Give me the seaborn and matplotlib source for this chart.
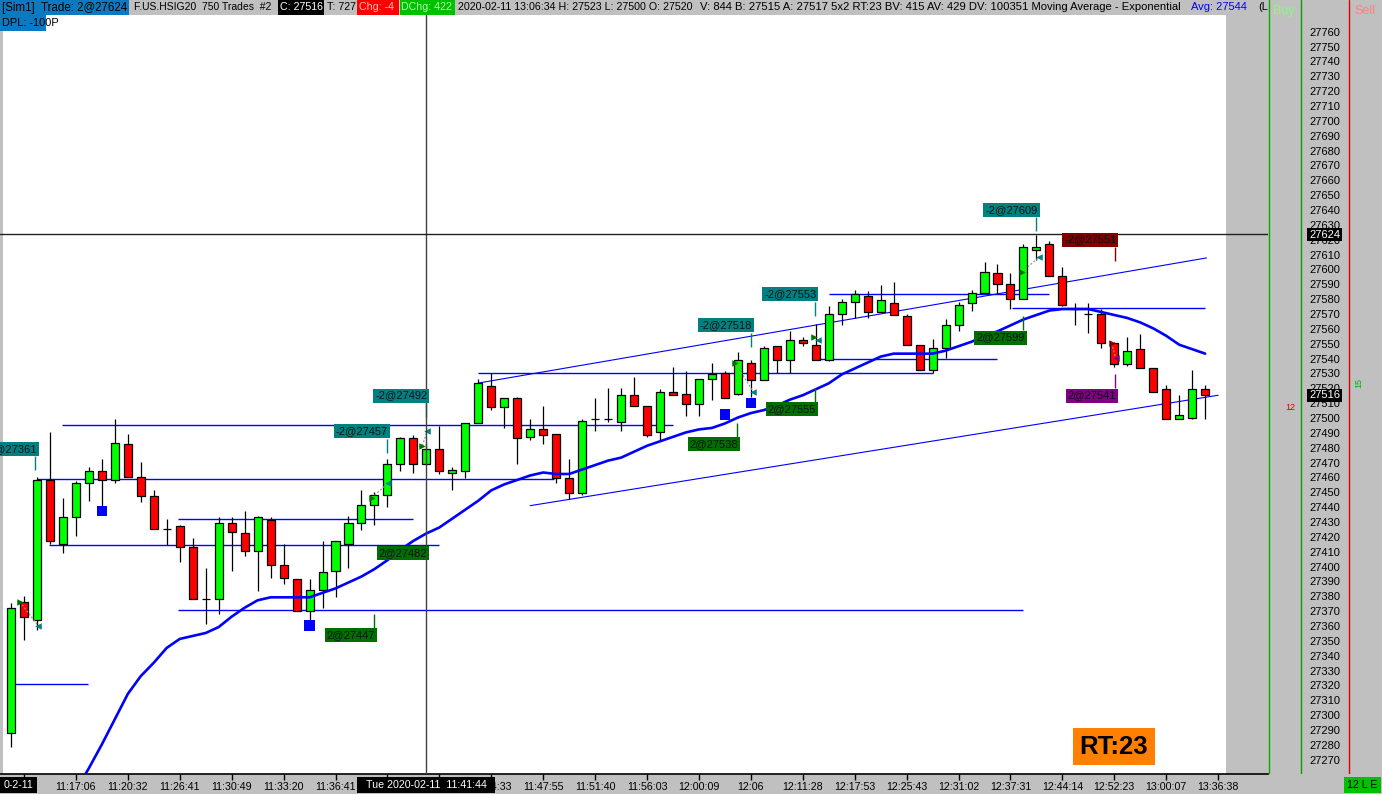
import numpy as np
import pandas as pd
import seaborn as sns
import matplotlib
matplotlib.use("Agg")
import matplotlib.pyplot as plt
from matplotlib.patches import Rectangle

# ---- bar data (one entry per bar, left to right) ----
opens = [27289, 27377, 27365, 27459, 27416, 27434, 27457, 27465, 27459, 27483,
         27461, 27448, 27426, 27428, 27414, 27379, 27379, 27430, 27423, 27411,
         27432, 27402, 27392, 27371, 27385, 27398, 27416, 27430, 27442, 27449,
         27470, 27487, 27470, 27480, 27464, 27465, 27497, 27522, 27508, 27514,
         27488, 27493, 27490, 27460, 27450, 27500, 27500, 27498, 27516, 27509,
         27491, 27518, 27517, 27510, 27527, 27531, 27517, 27538, 27526, 27549,
         27540, 27553, 27550, 27540, 27571, 27579, 27583, 27572, 27578, 27569,
         27550, 27533, 27548, 27563, 27578, 27585, 27598, 27591, 27581, 27614,
         27618, 27596, 27574, 27571, 27571, 27551, 27537, 27547, 27534, 27520,
         27500, 27501, 27520]
highs = [27376, 27381, 27461, 27491, 27447, 27458, 27468, 27473, 27500, 27490,
         27471, 27452, 27433, 27429, 27420, 27400, 27434, 27434, 27438, 27435,
         27434, 27416, 27392, 27392, 27418, 27418, 27435, 27452, 27451, 27473,
         27488, 27489, 27484, 27495, 27468, 27497, 27527, 27531, 27514, 27515,
         27500, 27509, 27490, 27473, 27500, 27514, 27521, 27521, 27528, 27509,
         27520, 27535, 27532, 27527, 27538, 27532, 27545, 27540, 27549, 27549,
         27559, 27555, 27564, 27576, 27581, 27587, 27586, 27590, 27592, 27571,
         27550, 27554, 27567, 27579, 27587, 27606, 27604, 27598, 27618, 27624,
         27620, 27602, 27578, 27578, 27574, 27552, 27555, 27557, 27534, 27523,
         27516, 27533, 27523]
lows = [27279, 27351, 27358, 27416, 27410, 27421, 27445, 27441, 27457, 27461,
        27444, 27426, 27415, 27404, 27379, 27362, 27369, 27398, 27408, 27384,
        27393, 27389, 27371, 27365, 27373, 27380, 27400, 27425, 27429, 27441,
        27465, 27464, 27470, 27463, 27452, 27460, 27497, 27506, 27494, 27470,
        27486, 27483, 27457, 27446, 27449, 27492, 27498, 27492, 27509, 27488,
        27486, 27516, 27502, 27502, 27513, 27514, 27516, 27515, 27526, 27531,
        27531, 27549, 27540, 27539, 27563, 27568, 27568, 27572, 27570, 27550,
        27533, 27531, 27541, 27559, 27573, 27585, 27585, 27574, 27581, 27607,
        27596, 27576, 27563, 27558, 27548, 27535, 27536, 27534, 27518, 27500,
        27500, 27500, 27500]
closes = [27373, 27367, 27459, 27418, 27434, 27457, 27465, 27459, 27484, 27461,
          27448, 27426, 27426, 27414, 27379, 27379, 27430, 27424, 27411, 27434,
          27402, 27393, 27371, 27385, 27397, 27418, 27430, 27442, 27449, 27470,
          27487, 27470, 27480, 27465, 27466, 27497, 27524, 27508, 27514, 27487,
          27493, 27489, 27460, 27450, 27499, 27500, 27500, 27516, 27509, 27489,
          27518, 27516, 27510, 27527, 27530, 27514, 27540, 27526, 27548, 27540,
          27553, 27551, 27540, 27571, 27579, 27584, 27572, 27580, 27570, 27550,
          27533, 27548, 27563, 27577, 27585, 27599, 27591, 27581, 27616, 27616,
          27596, 27577, 27574, 27571, 27551, 27537, 27546, 27534, 27518, 27500,
          27503, 27520, 27516]
# exponential moving average (nan = off screen)
ema = [np.nan] * 5 + [
    27250, 27265, 27281, 27298, 27315, 27327, 27336, 27346, 27352, 27354,
    27356, 27360, 27367, 27373, 27378, 27380, 27380, 27380, 27380, 27383,
    27386, 27390, 27394, 27399, 27405, 27412, 27418, 27423, 27427, 27433,
    27439, 27445, 27452, 27456, 27459, 27462, 27464, 27463, 27463, 27466,
    27469, 27472, 27474, 27478, 27482, 27485, 27488, 27491, 27493, 27494,
    27497, 27501, 27504, 27506, 27509, 27513, 27516, 27520, 27524, 27530,
    27534, 27538, 27542, 27544, 27544, 27544, 27544, 27546, 27549, 27552,
    27556, 27559, 27563, 27567, 27570, 27573, 27574, 27574, 27574, 27572,
    27570, 27568, 27565, 27561, 27556, 27550, 27547, 27544]

# time axis labels every 4 bars (those under the cursor box are hidden)
tick_bars = list(range(1, 94, 4))
tick_labels = ["", "11:17:06", "11:20:32", "11:26:41", "11:30:49", "11:33:20",
               "11:36:41", "", "", "11:44:33", "11:47:55",
               "11:51:40", "11:56:03", "12:00:09", "12:06", "12:11:28",
               "12:17:53", "12:25:43", "12:31:02", "12:37:31", "12:44:14",
               "12:52:23", "13:00:07", "13:36:38"]

# horizontal levels: (start bar, end bar, price)
levels = [(3.9, 51.0, 27496), (2.0, 41.8, 27459.4), (2.9, 33.0, 27415),
          (12.9, 31.0, 27432.7), (12.9, 78.0, 27371.3), (-0.1, 5.9, 27321.5),
          (36.0, 71.0, 27531), (61.7, 76.0, 27540.2), (63.0, 80.0, 27584),
          (77.1, 92.0, 27574.5)]
# channel lines: (bar0, price0, bar1, price1)
trendlines = [(36.0, 27524.2, 92.1, 27608.4), (40.0, 27441.7, 93.0, 27516.0)]

# blue dots
dot_bars = [7, 23, 55, 57]
dot_prices = [27438, 27361, 27503, 27511]

# trades: entry bar, entry price, exit bar, exit price, exit colour
trades = [(0.69, 27377, 2.08, 27361, "#008080"),
          (27.8, 27447, 29.05, 27457, "#008080"),
          (31.7, 27482, 32.05, 27492, "#008080"),
          (55.8, 27538, 57.2, 27518, "#008080"),
          (61.9, 27555, 62.2, 27553, "#008080"),
          (77.9, 27599, 79.2, 27609, "#008080"),
          (84.8, 27551, 85.1, 27541, "#800080")]

# trade tags: text, bar of leader, price of tag centre, colour, leader direction
tags = [("-2@27361", 1.87, 27480.0, "#008080", -1),
        ("-2@27457", 28.94, 27491.6, "#008080", -1),
        ("-2@27492", 31.97, 27515.8, "#008080", -1),
        ("2@27482", 31.97, 27410.0, "#006f00", 0),
        ("2@27447", 27.94, 27354.6, "#006f00", 1),
        ("-2@27518", 57.0, 27563.0, "#008080", -1),
        ("2@27538", 55.93, 27483.0, "#006f00", 1),
        ("2@27555", 61.94, 27506.7, "#006f00", 1),
        ("-2@27553", 61.94, 27584.0, "#008080", -1),
        ("-2@27609", 79.0, 27640.8, "#008080", -1),
        ("-2@27551", 85.05, 27620.8, "#800000", -1),
        ("2@27599", 77.99, 27554.8, "#006f00", 1),
        ("2@27541", 85.03, 27515.8, "#800080", 1)]

cursor_bar = 32.0
cursor_price = 27624.5

price_ticks = list(range(27270, 27761, 10))

sns.set_theme(style="white")
plt.rcParams["font.family"] = ["Liberation Sans", "DejaVu Sans"]

W, H = 1382, 794
GRAY = "#c0c0c0"
fig = plt.figure(figsize=(W / 100, H / 100), dpi=100, facecolor=GRAY)


def fx(px):
    return px / W


def fy(py):
    return 1 - py / H


def fbox(x0, y0, x1, y1, color, z=2):
    fig.add_artist(Rectangle((fx(x0), fy(y1)), (x1 - x0) / W, (y1 - y0) / H,
                             transform=fig.transFigure, fc=color, ec="none", zorder=z))


# main price pane
ax = fig.add_axes([0, 20 / H, 1268 / W, 759 / H])
ax.set_facecolor("white")
ax.set_xlim(-0.8475, 96.84)
ax.set_ylim(27261.1, 27771.9)
ax.add_patch(Rectangle((1226 / 1268, 0), 42 / 1268, 1, transform=ax.transAxes,
                       fc=GRAY, ec="none", zorder=0.5))
ax.add_patch(Rectangle((0, 0), 3 / 1268, 1, transform=ax.transAxes,
                       fc=GRAY, ec="none", zorder=0.5))

bars = pd.DataFrame({"bar": np.arange(len(opens)), "open": opens, "high": highs,
                     "low": lows, "close": closes, "ema": ema})
up = bars["close"] >= bars["open"]

ax.vlines(bars["bar"], bars["low"], bars["high"], color="black", lw=0.9, zorder=3)
ax.bar(bars["bar"][up], (bars["close"] - bars["open"])[up], bottom=bars["open"][up],
       width=0.62, color="#00ff00", edgecolor="black", linewidth=0.9, zorder=4)
ax.bar(bars["bar"][~up], (bars["close"] - bars["open"])[~up], bottom=bars["open"][~up],
       width=0.62, color="#ff0000", edgecolor="black", linewidth=0.9, zorder=4)

for b0, b1, p in levels:
    ax.hlines(p, b0, b1, color="#0000ff", lw=1.0, zorder=2)
for b0, p0, b1, p1 in trendlines:
    ax.plot([b0, b1], [p0, p1], color="#0000ff", lw=0.8, zorder=2)

sns.lineplot(data=bars, x="bar", y="ema", color="#0000ff", lw=1.9, ax=ax, zorder=5)

sns.scatterplot(x=dot_bars, y=dot_prices, marker="s", s=55, color="#0000ff",
                edgecolor="none", ax=ax, zorder=6)

for b0, p0, b1, p1, c in trades:
    ax.plot([b0, b1], [p0, p1], color="#909090", lw=0.9, ls=(0, (1.5, 1.5)), zorder=6)
    ax.scatter([b0], [p0], marker=">", s=22, color="#007000" if c != "#800080" else "#800000",
               zorder=7, linewidths=0)
    ax.scatter([b1], [p1], marker="<", s=22, color=c, zorder=7, linewidths=0)

px_per_pt = 1.486
for text, b, p, c, d in tags:
    ax.text(b + 0.1, p, text, ha="right", va="center", fontsize=8, color="#061414",
            zorder=9, bbox=dict(boxstyle="square,pad=0.18", fc=c, ec="none"))
    if d != 0:
        edge = p + d * 7.5 / px_per_pt
        ax.vlines(b, edge, edge + d * 14 / px_per_pt, color=c, lw=1.0, zorder=8)

# cursor
ax.axvline(cursor_bar, color="#404040", lw=1.0, zorder=8)
ax.axhline(cursor_price, color="#202020", lw=1.0, zorder=8)

for s in ["top", "left", "right"]:
    ax.spines[s].set_visible(False)
ax.spines["bottom"].set_color("black")
ax.spines["bottom"].set_linewidth(1.2)
ax.set_yticks([])
ax.set_xticks(tick_bars)
ax.set_xticklabels(tick_labels, fontsize=7.7, color="black")
ax.tick_params(axis="x", direction="out", length=4, width=1, color="black", pad=1.5, bottom=True)
ax.set_xlabel("")
ax.set_ylabel("")

# price scale pane
axr = fig.add_axes([1268 / W, 20 / H, 114 / W, 774 / H])
axr.set_facecolor(GRAY)
axr.set_xlim(1268, 1382)
axr.set_ylim(27261.1, 27782.0)
axr.axis("off")
axr.axvline(1269, color="#00b000", lw=1.0)
axr.axvline(1300.5, color="#00a000", lw=1.0)
axr.axvline(1349, color="#e00000", lw=1.0)
for p in price_ticks:
    axr.text(1324.5, p, str(p), ha="center", va="center", fontsize=8, color="black")
for p, lab in [(27624, "27624"), (27516, "27516")]:
    axr.text(1324.5, p, lab, ha="center", va="center", fontsize=8, color="white", zorder=5,
             bbox=dict(boxstyle="square,pad=0.15", fc="black", ec="none"))
axr.text(1290, 27508, "12", ha="center", va="center", fontsize=6.5, color="#e00000")
axr.text(1359, 27524, "15", ha="center", va="center", fontsize=6.5, color="#00b000", rotation=90)

fig.text(fx(1284), fy(11), "Buy", fontsize=9, color="#80ff80", ha="center", va="center")
fig.text(fx(1365), fy(11), "Sell", fontsize=9, color="#ff8080", ha="center", va="center")

# header strip
fbox(0, 0, 129, 15, "#0a7bc2")
fbox(278, 0, 324, 15, "black")
fbox(357, 0, 399, 15, "#ff0000")
fbox(400, 0, 455, 15, "#00c000")
fbox(0, 15, 46, 31, "#0a7bc2", z=3)
header = [(2, "[Sim1]  Trade: 2@27624", "black", 8.3),
          (134, "F.US.HSIG20  750 Trades  #2", "black", 7.5),
          (280, "C: 27516", "white", 7.7),
          (327, "T: 727", "black", 7.7),
          (359, "Chg: -4", "#ffc0c0", 7.7),
          (401, "DChg: 422", "#b0ffb0", 7.7),
          (458, "2020-02-11 13:06:34 H: 27523 L: 27500 O: 27520", "black", 7.7),
          (700, "V: 844 B: 27515 A: 27517 5x2 RT:23 BV: 415 AV: 429 DV: 100351 Moving Average - Exponential", "black", 8.15),
          (1191, "Avg: 27544", "#0000ff", 8.0),
          (1258, "(L", "black", 8.0)]
for x, t, c, fs in header:
    fig.text(fx(x), fy(7.5), t, fontsize=fs, color=c, ha="left", va="center", zorder=4)
fig.text(fx(2), fy(23), "DPL: -100P", fontsize=7.9, color="black", ha="left", va="center", zorder=4)

# bottom date boxes
HF = 7.7
fbox(0, 777, 37, 793, "black", z=3)
fig.text(fx(18.5), fy(785), "0-2-11", fontsize=HF, color="white", ha="center", va="center", zorder=4)
fbox(357, 777, 495, 793, "black", z=3)
fig.text(fx(426), fy(785), "Tue 2020-02-11  11:41:44", fontsize=HF, color="white",
         ha="center", va="center", zorder=4)
fbox(1344, 777, 1381, 793, "#00c000", z=3)
fig.text(fx(1362.5), fy(785), "12 L E", fontsize=HF, color="black", ha="center", va="center", zorder=4)

# round trip badge
fbox(1073, 728, 1155, 765, "#ff8000", z=3)
fig.text(fx(1114), fy(747), "RT:23", fontsize=18.5, fontweight="bold", color="black",
         ha="center", va="center", zorder=4)

fig.savefig("out.png", dpi=100, facecolor=GRAY)
